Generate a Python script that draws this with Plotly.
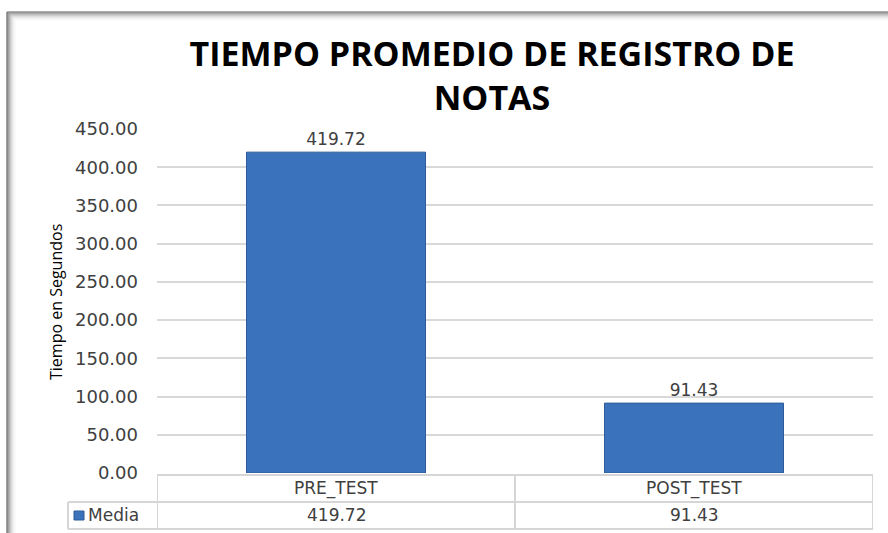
import plotly.graph_objects as go

categories = ["PRE_TEST", "POST_TEST"]
media = [419.72, 91.43]
series_name = "Media"
y_ticks = [0, 50, 100, 150, 200, 250, 300, 350, 400, 450]
title_text = "TIEMPO PROMEDIO DE REGISTRO DE<br>NOTAS"
y_title = "Tiempo en Segundos"

W, H = 888, 533
ML, MR, MT, MB = 157, 15, 129, 60
PW, PH = W - ML - MR, H - MT - MB


def X(px):
    return (px - ML) / PW


def Y(py):
    return (H - MB - py) / PH


TXT = "#404040"
GRID = "#d9d9d9"
TLINE = "#d6d6d6"
BAR = "#3a72bb"

fig = go.Figure()
fig.add_trace(go.Bar(
    x=categories, y=media, name=series_name, width=0.5,
    marker=dict(color=BAR, line=dict(color="#2d5c98", width=1)),
    text=[f"{v:.2f}" for v in media], textposition="outside",
    textfont=dict(family="DejaVu Sans", size=17, color=TXT),
    cliponaxis=False, showlegend=False,
))

shapes = []
# frame shadow (left and top)
shades = ["#606060", "#7c7c7c", "#989898", "#b0b0b0", "#c6c6c6", "#d8d8d8", "#e6e6e6", "#f1f1f1", "#f8f8f8"]
for i, c in enumerate(shades):
    shapes.append(dict(type="line", xref="paper", yref="paper",
                       x0=X(7 + i), x1=X(7 + i), y0=Y(12 + i), y1=Y(540),
                       line=dict(color=c, width=1.2), layer="below"))
    shapes.append(dict(type="line", xref="paper", yref="paper",
                       x0=X(7 + i), x1=X(900), y0=Y(12 + i), y1=Y(12 + i),
                       line=dict(color=c, width=1.2), layer="below"))

# data table lines
top, mid, bot = 475, 502, 529
left_leg, right = 68, 873
tl = dict(color=TLINE, width=2)
shapes += [
    dict(type="line", xref="paper", yref="paper", x0=X(ML), x1=X(right), y0=Y(top), y1=Y(top), line=tl),
    dict(type="line", xref="paper", yref="paper", x0=X(left_leg), x1=X(right), y0=Y(mid), y1=Y(mid), line=tl),
    dict(type="line", xref="paper", yref="paper", x0=X(left_leg), x1=X(right), y0=Y(bot), y1=Y(bot), line=tl),
    dict(type="line", xref="paper", yref="paper", x0=X(left_leg), x1=X(left_leg), y0=Y(mid), y1=Y(bot), line=tl),
]
for k in range(len(categories) + 1):
    shapes.append(dict(type="line", xref="x", yref="paper", x0=k - 0.5, x1=k - 0.5,
                       y0=Y(top), y1=Y(bot), line=tl))
# legend key
shapes.append(dict(type="rect", xref="paper", yref="paper", x0=X(74), x1=X(84), y0=Y(520), y1=Y(511),
                   fillcolor=BAR, line=dict(color="#2d5c98", width=1)))

cell_font = dict(family="DejaVu Sans", size=17, color=TXT)
annotations = []
for i, (c, v) in enumerate(zip(categories, media)):
    annotations.append(dict(x=i, xref="x", y=Y(488), yref="paper", text=c, showarrow=False,
                            xanchor="center", yanchor="middle", font=cell_font))
    annotations.append(dict(x=i, xref="x", y=Y(515), yref="paper", text=f"{v:.2f}", showarrow=False,
                            xanchor="center", yanchor="middle", font=cell_font))
annotations.append(dict(x=X(86), xref="paper", y=Y(515), yref="paper", text=series_name, showarrow=False,
                        xanchor="left", yanchor="middle", font=cell_font))
annotations.append(dict(x=X(56), xref="paper", y=Y(302), yref="paper", text=y_title, showarrow=False,
                        xanchor="center", yanchor="middle", textangle=-90,
                        font=dict(family="Liberation Sans Narrow, Open Sans", size=16, color="#000000")))

fig.update_layout(
    width=W, height=H,
    margin=dict(l=ML, r=MR, t=MT, b=MB, pad=0),
    paper_bgcolor="white", plot_bgcolor="white",
    title=dict(text=title_text, x=492 / W, xanchor="center", xref="container",
               y=1 - 66 / H, yanchor="top", yref="container",
               font=dict(family="Open Sans", size=34, color="#000000", weight="bold")),
    xaxis=dict(range=[-0.5, len(categories) - 0.5], showticklabels=False, showgrid=False,
               zeroline=False, showline=False, ticks=""),
    yaxis=dict(range=[0, 450], tickvals=y_ticks, ticktext=[f"{t:.2f}" for t in y_ticks],
               showgrid=True, gridcolor=GRID, gridwidth=1.5, zeroline=False, showline=False,
               ticks="", ticklabelstandoff=18,
               tickfont=dict(family="DejaVu Sans", size=18, color=TXT)),
    shapes=shapes, annotations=annotations,
    bargap=0.5,
)

fig.write_html("out.html", config={"displayModeBar": False},
               post_script="document.body.style.margin='0px';document.body.style.overflow='hidden';")
